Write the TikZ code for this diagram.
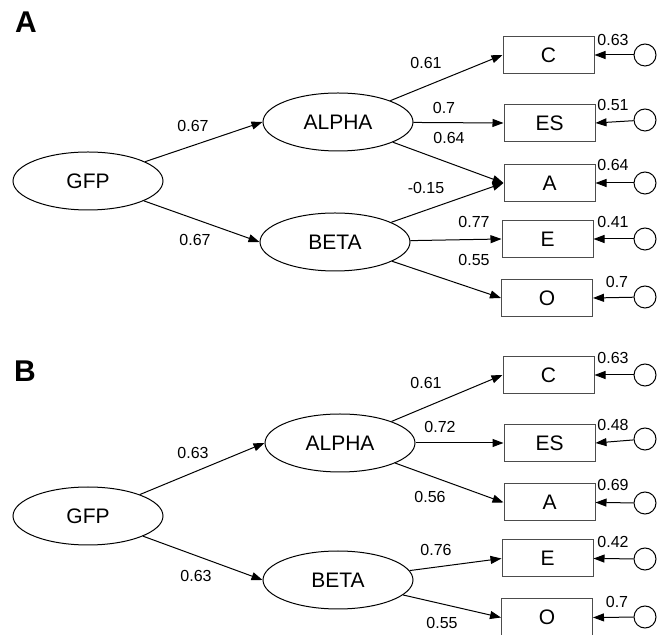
\documentclass[tikz,border=0pt]{standalone}
\usepackage{fontspec}
\setmainfont{Liberation Sans}
\usetikzlibrary{arrows.meta,shapes.geometric}

\tikzset{
  latent/.style={ellipse, draw, line width=0.5pt, minimum width=75pt,
    minimum height=29pt, inner sep=0pt, font=\fontsize{10.5}{12}\selectfont},
  observed/.style={rectangle, draw=black!70, line width=0.5pt,
    minimum width=45.5pt, minimum height=18.5pt, inner sep=0pt,
    font=\fontsize{10.5}{12}\selectfont},
  residual/.style={circle, draw, line width=0.5pt, minimum size=11pt, inner sep=0pt},
  coef/.style={font=\fontsize{8}{9}\selectfont, inner sep=0pt},
  panel/.style={font=\fontsize{15}{17}\selectfont\bfseries, inner sep=0pt},
  path/.style={->, line width=0.5pt}
}

\begin{document}
\begin{tikzpicture}[x=0.5pt, y=-0.5pt, >={Triangle[length=5.5pt, width=4pt]}]

            \useasboundingbox (0,0) rectangle (664,635);

            % Panel A: the two factors with the cross loading on A

            \node[panel] (panelA) at (26,22) {A};

            \node[latent] (gfpA) at (88,181) {GFP};
            \node[latent] (alphaA) at (338,122) {ALPHA};
            \node[latent] (betaA) at (335,242) {BETA};

            \node[observed] (cA) at (548.5,55) {C};
            \node[observed] (esA) at (549.5,123) {ES};
            \node[observed] (aA) at (549.5,183) {A};
            \node[observed] (eA) at (547.5,239) {E};
            \node[observed] (oA) at (547,298) {O};

            \node[residual] (ucA) at (645,55) {};
            \node[residual] (uesA) at (645,120) {};
            \node[residual] (uaA) at (645,183) {};
            \node[residual] (ueA) at (645,239) {};
            \node[residual] (uoA) at (645,297) {};

            % Draw the loadings
            \draw[path] (gfpA) -- (alphaA.west);
            \draw[path] (gfpA) -- (betaA.west);
            \draw[path] (alphaA) -- (cA.west);
            \draw[path] (alphaA) -- (esA.west);
            \draw[path] (alphaA) -- (aA.west);
            \draw[path] (betaA) -- (aA.west);
            \draw[path] (betaA) -- (eA.west);
            \draw[path] (betaA) -- (oA.west);

            % Draw the residuals
            \draw[path] (ucA) -- (cA.east);
            \draw[path] (uesA) -- (esA.east);
            \draw[path] (uaA) -- (aA.east);
            \draw[path] (ueA) -- (eA.east);
            \draw[path] (uoA) -- (oA.east);

            \node[coef] (lgaA) at (193,126) {0.67};
            \node[coef] (lgbA) at (195,240) {0.67};
            \node[coef] (lacA) at (426,63) {0.61};
            \node[coef] (laesA) at (444,108) {0.7};
            \node[coef] (laaA) at (449,138) {0.64};
            \node[coef] (lbaA) at (426,188) {-0.15};
            \node[coef] (lbeA) at (474,222) {0.77};
            \node[coef] (lboA) at (474,260) {0.55};

            \node[coef] (rcA) at (613,39.5) {0.63};
            \node[coef] (resA) at (613,105) {0.51};
            \node[coef] (raA) at (613,165) {0.64};
            \node[coef] (reA) at (613,222) {0.41};
            \node[coef] (roA) at (617,282) {0.7};

            % Panel B: the same model without the cross loading

            \node[panel] (panelB) at (25,371) {B};

            \node[latent] (gfpB) at (88,516) {GFP};
            \node[latent] (alphaB) at (340,443) {ALPHA};
            \node[latent] (betaB) at (338,580) {BETA};

            \node[observed] (cB) at (548.5,375) {C};
            \node[observed] (esB) at (549.5,443) {ES};
            \node[observed] (aB) at (549.5,502.5) {A};
            \node[observed] (eB) at (547.5,558.5) {E};
            \node[observed] (oB) at (547,617.5) {O};

            \node[residual] (ucB) at (645,375) {};
            \node[residual] (uesB) at (645,439) {};
            \node[residual] (uaB) at (645,503) {};
            \node[residual] (ueB) at (645,559) {};
            \node[residual] (uoB) at (645,617) {};

            % Draw the loadings
            \draw[path] (gfpB) -- (alphaB.west);
            \draw[path] (gfpB) -- (betaB.west);
            \draw[path] (alphaB) -- (cB.west);
            \draw[path] (alphaB) -- (esB.west);
            \draw[path] (alphaB) -- (aB.west);
            \draw[path] (betaB) -- (eB.west);
            \draw[path] (betaB) -- (oB.west);

            % Draw the residuals
            \draw[path] (ucB) -- (cB.east);
            \draw[path] (uesB) -- (esB.east);
            \draw[path] (uaB) -- (aB.east);
            \draw[path] (ueB) -- (eB.east);
            \draw[path] (uoB) -- (oB.east);

            \node[coef] (lgaB) at (193,453) {0.63};
            \node[coef] (lgbB) at (196,576) {0.63};
            \node[coef] (lacB) at (426,383) {0.61};
            \node[coef] (laesB) at (440,427) {0.72};
            \node[coef] (laaB) at (430,497) {0.56};
            \node[coef] (lbeB) at (436,550) {0.76};
            \node[coef] (lboB) at (442,623) {0.55};

            \node[coef] (rcB) at (613,358) {0.63};
            \node[coef] (resB) at (613,425) {0.48};
            \node[coef] (raB) at (613,485) {0.69};
            \node[coef] (reB) at (613,542) {0.42};
            \node[coef] (roB) at (617,602) {0.7};

        \end{tikzpicture}
\end{document}
